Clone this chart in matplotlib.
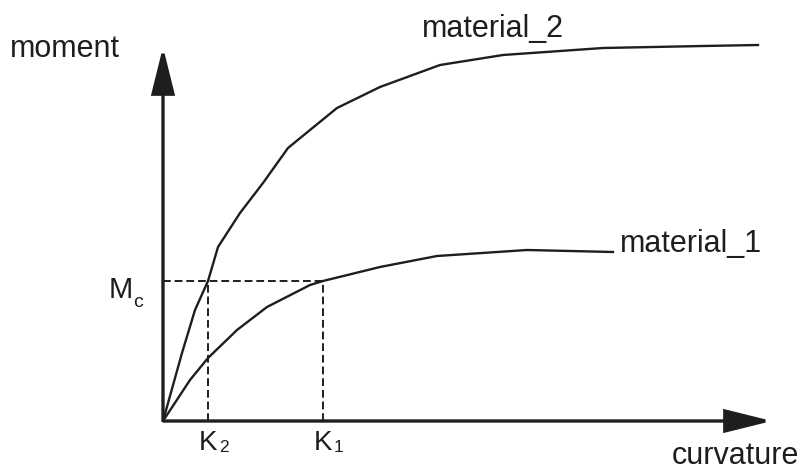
import matplotlib
matplotlib.use("Agg")
import matplotlib.pyplot as plt
from matplotlib.patches import FancyArrowPatch

plt.rcParams["font.family"] = ["Liberation Sans", "DejaVu Sans"]

# moment-curvature curves (arbitrary units)
curvature_2 = [0, 0.19, 0.32, 0.45, 0.55, 0.77, 1.00, 1.25, 1.47, 1.74, 2.17, 2.77, 3.40, 4.40, 5.40, 5.95]
moment_2 = [0, 0.68, 1.11, 1.40, 1.74, 2.08, 2.38, 2.73, 2.91, 3.13, 3.34, 3.56, 3.66, 3.73, 3.75, 3.76]
curvature_1 = [0, 0.27, 0.45, 0.74, 1.04, 1.47, 1.60, 2.17, 2.74, 3.64, 4.50]
moment_1 = [0, 0.41, 0.63, 0.91, 1.14, 1.36, 1.40, 1.54, 1.65, 1.71, 1.69]

k1 = 1.60
k2 = 0.45
m_c = 1.40
x_axis_end = 6.09
y_axis_end = 3.74

ink = "#1e1e1e"

fig = plt.figure(figsize=(8.05, 4.71), dpi=100)
ax = fig.add_axes([0, 0, 1, 1])
ax.set_xlim(-1.63, 6.42)
ax.set_ylim(-0.50, 4.21)
ax.axis("off")

# axes with arrowheads
for end in [(x_axis_end, 0), (0, y_axis_end)]:
    arrow = FancyArrowPatch(
        (0, 0), end,
        arrowstyle="-|>,head_length=2.9,head_width=0.72",
        mutation_scale=10, shrinkA=0, shrinkB=0,
        lw=2.4, color=ink, joinstyle="miter", capstyle="butt",
    )
    ax.add_patch(arrow)

# curves
ax.plot(curvature_2, moment_2, color=ink, lw=1.7, solid_joinstyle="round")
ax.plot(curvature_1, moment_1, color=ink, lw=1.7, solid_joinstyle="round")

# dashed guide lines
dash = dict(color=ink, lw=1.4, ls=(0, (4, 2)))
ax.plot([0, k1], [m_c, m_c], **dash)
ax.plot([k2, k2], [0, m_c], **dash)
ax.plot([k1, k1], [0, m_c], **dash)

# labels
txt = dict(va="baseline", ha="left", color=ink)
ax.text(-1.53, 3.64, "moment", fontsize=22, **txt)
ax.text(5.09, -0.43, "curvature", fontsize=22, **txt)
ax.text(2.59, 3.84, "material_2", fontsize=22, **txt)
ax.text(4.57, 1.69, "material_1", fontsize=22, **txt)

ax.text(-0.54, 1.23, "M", fontsize=21, **txt)
ax.text(-0.30, 1.14, "c", fontsize=14, **txt)
ax.text(k2 - 0.09, -0.29, "K", fontsize=20, **txt)
ax.text(k2 + 0.11, -0.31, "2", fontsize=12.5, **txt)
ax.text(k1 - 0.09, -0.29, "K", fontsize=20, **txt)
ax.text(k1 + 0.11, -0.31, "1", fontsize=12.5, **txt)

fig.savefig("out.png", dpi=100)
plt.close(fig)
